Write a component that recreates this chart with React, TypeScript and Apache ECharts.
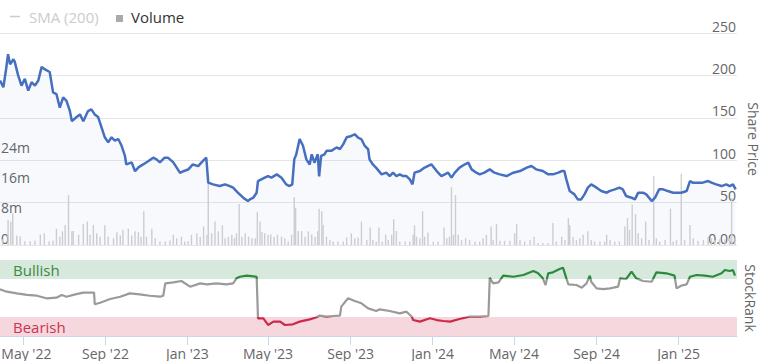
import React, { useEffect, useRef } from 'react';
import * as echarts from 'echarts';

// x values are days counted from 2022-03-28
const START = Date.UTC(2022, 2, 28);
const DAY = 86400000;
const AXIS_DAYS = 1097;

const tickDates = ['2022-05-01', '2022-09-01', '2023-01-01', '2023-05-01', '2023-09-01', '2024-01-01', '2024-05-01', '2024-09-01', '2025-01-01'];
const tickLabels = ["May '22", "Sep '22", "Jan '23", "May '23", "Sep '23", "Jan '24", "May '24", "Sep '24", "Jan '25"];

// [day, share price]
const sharePrice: [number, number][] = [
  [0, 194], [5, 186], [9, 207], [12, 225], [15, 213], [20, 219], [22, 216], [27, 200], [32, 188], [37, 196],
  [42, 182], [47, 192], [52, 188], [57, 194], [62, 210], [67, 207], [74, 204], [79, 180], [84, 178], [89, 162],
  [94, 174], [99, 170], [104, 158], [107, 146], [114, 151], [119, 154], [124, 146], [131, 158], [136, 160], [141, 154],
  [146, 151], [151, 139], [156, 127], [161, 121], [166, 127], [171, 123], [176, 125], [181, 117], [186, 105], [188, 95],
  [196, 97.5], [201, 87], [206, 91.6], [213, 95], [221, 99], [228, 103], [233, 101], [238, 97.5], [245, 103], [250, 103],
  [258, 97.5], [268, 85], [273, 87], [280, 89], [287, 95], [295, 93], [300, 97.5], [307, 103], [310, 73.5], [317, 71.5],
  [327, 69.5], [335, 71.5], [342, 69.5], [347, 67.6], [354, 61.7], [362, 55.8], [369, 51.8], [372, 53.8], [377, 55.8], [382, 61.7],
  [384, 75.4], [389, 77.4], [394, 79.4], [399, 81.3], [404, 79.4], [412, 83.3], [419, 79.4], [426, 71.5], [431, 69.5], [435, 71.5],
  [438, 101], [441, 107], [446, 125], [451, 117], [456, 101], [461, 95], [464, 107], [468, 97], [473, 107], [475, 81],
  [478, 105], [483, 107], [486, 111], [493, 111], [501, 115], [506, 113], [511, 119], [516, 127], [523, 128.6], [528, 130.6],
  [533, 126.7], [538, 124.7], [543, 116.8], [548, 112.9], [550, 101], [555, 95], [560, 91], [568, 83.3], [575, 85.3], [580, 81.3],
  [585, 85.3], [590, 81.3], [595, 83.3], [600, 81.3], [605, 81.3], [610, 77.4], [614, 71.5], [617, 85.3], [625, 87.2], [632, 91.3],
  [642, 95.2], [650, 87.2], [657, 81.3], [662, 83.3], [667, 85.3], [672, 79.4], [677, 85.3], [684, 91.3], [692, 95.2], [697, 97.2],
  [702, 89.2], [709, 85.3], [714, 83.3], [721, 85.3], [729, 89.2], [736, 85.3], [744, 83.3], [754, 81.3], [764, 85.3], [774, 87.2],
  [784, 91.3], [791, 93.2], [798, 89.2], [808, 87.2], [816, 83.3], [823, 83.3], [831, 85.3], [836, 87.2], [840, 87.2], [843, 77.4],
  [848, 63.6], [855, 59.7], [860, 53.8], [865, 53.8], [870, 59.7], [875, 67.6], [880, 71.5], [888, 67.6], [895, 63.6], [903, 61.7],
  [907, 63.6], [915, 65.6], [922, 67.6], [927, 65.6], [932, 57.7], [940, 55.8], [945, 53.8], [950, 61.7], [957, 61.7], [962, 59.7],
  [970, 51.8], [975, 55.8], [981, 65.6], [987, 65.6], [994, 63.6], [1002, 61.7], [1009, 61.7], [1014, 61.7], [1022, 63.6], [1027, 75.4],
  [1031, 73.5], [1039, 73.5], [1046, 73.5], [1054, 75.4], [1059, 73.5], [1066, 71.5], [1074, 69.5], [1081, 71.5], [1086, 69.5], [1091, 71.5],
  [1095, 65.6],
];

// [day, volume in millions]
const volume: [number, number][] = [
  [4, 1.5], [12, 6.7], [16, 6.2], [19, 8.4], [25, 2.5], [30, 2.3], [37, 1], [45, 1], [52, 1.2], [60, 2.8],
  [66, 3.1], [73, 1], [79, 1.2], [84, 4.3], [89, 2.2], [93, 3.6], [97, 5.3], [102, 13.2], [107, 3.6], [109, 3.7],
  [117, 2.7], [124, 5.5], [130, 6.2], [134, 2.7], [139, 5.3], [144, 3.1], [149, 2.2], [156, 5.2], [161, 2.2], [169, 1.8],
  [174, 3.4], [179, 2.5], [183, 4], [191, 4.3], [196, 2.5], [201, 3.6], [206, 3.4], [210, 2.2], [214, 8.9], [218, 2.2],
  [226, 4.3], [231, 1.8], [238, 0.9], [246, 0.9], [253, 1.2], [258, 2.7], [263, 1.8], [270, 2.2], [275, 0.9], [280, 1],
  [285, 2.7], [293, 3.1], [298, 2.2], [303, 4.9], [308, 2.7], [310, 17], [315, 3.1], [320, 6.2], [325, 3.6], [331, 5.2],
  [335, 1.8], [340, 2.2], [345, 2.7], [349, 1.8], [352, 3.1], [356, 10.8], [360, 2.2], [365, 3.1], [370, 2.2], [375, 1.8],
  [380, 1.8], [383, 8.7], [387, 6.2], [390, 3.4], [394, 3.1], [399, 2.7], [403, 2.8], [408, 2.2], [413, 2.7], [419, 2.2],
  [424, 1.8], [429, 0.9], [434, 2.7], [438, 12.6], [440, 9.8], [444, 3.6], [449, 3.7], [454, 2.2], [459, 3.6], [464, 2.8],
  [469, 2.2], [473, 3.7], [475, 9.6], [479, 8.9], [481, 5.3], [486, 2.2], [491, 1.3], [496, 0.9], [503, 0.9], [511, 0.9],
  [516, 2], [523, 3.1], [528, 1.8], [533, 2], [538, 6.2], [546, 1.3], [551, 4.6], [555, 1.3], [560, 0.9], [564, 4.6],
  [569, 0.9], [574, 2.7], [578, 1.3], [583, 2.7], [586, 6.8], [590, 3.7], [595, 0.9], [603, 0.9], [610, 0.9], [615, 2.7],
  [617, 5.2], [620, 2.2], [625, 1.8], [629, 8.9], [632, 2.2], [637, 3.3], [645, 0.9], [652, 0.9], [661, 4.6], [665, 1.8],
  [669, 2.2], [672, 15.3], [675, 2.7], [678, 13.2], [682, 2.7], [687, 1.3], [693, 1.8], [699, 1.3], [707, 0.9], [714, 0.9],
  [719, 1.8], [724, 2.7], [731, 4.9], [734, 1.3], [739, 5.5], [744, 1.1], [751, 1.1], [759, 1.1], [766, 3.1], [769, 5.5],
  [774, 1.3], [781, 0.9], [789, 1.3], [795, 2.2], [801, 0.5], [808, 0.5], [816, 0.5], [823, 5.8], [828, 0.9], [836, 2.2],
  [841, 1.3], [846, 7.1], [848, 5.3], [853, 2.2], [858, 1.3], [863, 1.8], [868, 2.7], [875, 3.6], [880, 1.3], [885, 0.9],
  [893, 0.9], [900, 0.9], [903, 2.7], [908, 1.3], [915, 0.9], [922, 0.9], [930, 4.9], [934, 7.1], [937, 4], [941, 10.7],
  [946, 8.2], [950, 3.1], [955, 1.8], [961, 6.2], [966, 1.3], [973, 18.2], [977, 1.8], [982, 0.9], [990, 1.3], [998, 9.6],
  [1002, 0.9], [1007, 1.3], [1014, 18.8], [1019, 1.3], [1027, 5.3], [1032, 1.8], [1039, 1.1], [1047, 1.3], [1054, 2.2], [1059, 1.8],
  [1064, 1.3], [1071, 1.5], [1079, 1.5], [1086, 1.8], [1089, 12.4], [1094, 2],
];

// [day, StockRank]
const stockRank: [number, number][] = [
  [0, 61.4], [10, 58.3], [25, 56.1], [40, 54], [55, 53], [69, 49.6], [84, 50.4], [92, 54], [99, 51.7], [112, 54.8],
  [124, 57], [136, 57], [140, 57], [141, 41.7], [149, 43.8], [164, 48.7], [179, 51.7], [193, 56.1], [208, 54.8], [223, 53],
  [238, 51.7], [243, 53], [246, 69.3], [258, 70.6], [270, 72.4], [283, 64.9], [298, 69.3], [308, 68], [322, 69.3], [337, 68],
  [347, 69.3], [352, 75.9], [357, 78], [367, 79.4], [382, 78], [384, 23.3], [392, 23.3], [399, 14.5], [407, 18.9], [417, 18.9],
  [424, 14.5], [436, 15.4], [446, 18.9], [461, 21.9], [469, 24.1], [476, 26.8], [486, 25.4], [496, 26.3], [506, 26.8], [508, 38.6],
  [518, 49.6], [528, 46], [538, 43], [548, 36.4], [560, 32.9], [565, 35.1], [580, 32.9], [595, 29.8], [605, 32], [613, 25.4],
  [615, 21], [625, 18.9], [640, 23.3], [650, 21], [660, 19.7], [670, 18.9], [684, 22.4], [699, 25.4], [714, 25.4], [727, 26.3],
  [729, 76.7], [734, 69.3], [742, 70.6], [749, 79.4], [764, 78], [779, 80.3], [794, 85.5], [801, 82.5], [808, 75.9], [812, 67.1],
  [816, 82.5], [823, 83.8], [833, 88.2], [838, 89.9], [843, 75.9], [846, 68], [858, 67.1], [866, 63.6], [873, 69.3], [878, 79.4],
  [880, 71.4], [888, 62.7], [898, 61.8], [908, 62.7], [920, 64.9], [923, 75.9], [932, 75], [940, 84.6], [947, 75.9], [957, 72.4],
  [970, 71.4], [977, 83.8], [992, 82.5], [1004, 79.4], [1007, 62.7], [1014, 66.2], [1022, 68], [1027, 78], [1037, 80.3], [1049, 79.4],
  [1061, 78], [1074, 82.5], [1079, 86.8], [1086, 85.5], [1091, 86.8], [1094, 79.4],
];

const bands = [
  { name: 'Bullish', from: 75, to: 100, fill: '#d6e9dc', text: '#3b8a40' },
  { name: 'Bearish', from: 0, to: 25, fill: '#f5d7dd', text: '#cc3355' },
];

const FONT = "'Open Sans', 'Noto Sans', sans-serif";
const tickDays = tickDates.map((s) => Math.round((Date.parse(s + 'T00:00:00Z') - START) / DAY));

export default function App() {
  const ref = useRef<HTMLDivElement>(null);
  useEffect(() => {
    if (!ref.current) return;
    const chart = echarts.init(ref.current, undefined, { renderer: 'svg' });
    const labelColor = '#666666';
    const gridLine = '#e6e6e6';
    const nameStyle = { color: labelColor, fontSize: 14, lineHeight: 14, fontFamily: FONT };
    chart.setOption({
      animation: false,
      textStyle: { fontFamily: FONT },
      grid: [
        { left: 0, right: 22, top: 33, height: 212, outerBoundsMode: 'none' },
        { left: 0, right: 22, top: 260, height: 76, outerBoundsMode: 'none' },
      ],
      xAxis: [
        { type: 'value', gridIndex: 0, min: 0, max: AXIS_DAYS, show: false, splitLine: { show: false } },
        {
          type: 'value', gridIndex: 1, min: 0, max: AXIS_DAYS,
          axisLine: { show: true, lineStyle: { color: '#ccd6eb' } },
          axisTick: { show: true, customValues: tickDays, length: 9, lineStyle: { color: '#ccd6eb' } },
          axisLabel: {
            customValues: tickDays,
            margin: 10,
            color: labelColor,
            fontSize: 14,
            fontFamily: FONT,
            rich: { first: { padding: [0, 0, 0, 7], color: labelColor, fontSize: 14, fontFamily: FONT } },
            formatter: (v: number) => {
              const i = tickDays.indexOf(Math.round(v));
              if (i < 0) return '';
              return i === 0 ? `{first|${tickLabels[i]}}` : tickLabels[i];
            },
          },
          splitLine: { show: false },
        },
      ],
      yAxis: [
        {
          type: 'value', gridIndex: 0, position: 'right', min: 0, max: 250, interval: 50,
          name: 'Share Price', nameLocation: 'middle', nameRotate: -90, nameGap: 4,
          nameTextStyle: nameStyle,
          axisLine: { show: false }, axisTick: { show: false },
          axisLabel: {
            inside: true, margin: 1, color: labelColor, fontSize: 14, fontFamily: FONT,
            verticalAlign: 'bottom',
            formatter: (v: number) => (v === 0 ? '0.00' : String(v)),
          },
          splitLine: { show: true, lineStyle: { color: gridLine, width: 1 } },
        },
        {
          type: 'value', gridIndex: 0, position: 'left', min: 0, max: 56e6, interval: 8e6,
          axisLine: { show: false }, axisTick: { show: false },
          axisLabel: {
            inside: true, margin: 1, color: labelColor, fontSize: 14, fontFamily: FONT,
            verticalAlign: 'bottom',
            formatter: (v: number) => (v === 0 ? '0' : v <= 24e6 ? `${v / 1e6}m` : ''),
          },
          splitLine: { show: false },
        },
        {
          type: 'value', gridIndex: 1, position: 'right', min: 0, max: 100, interval: 100,
          name: 'StockRank', nameLocation: 'middle', nameRotate: -90, nameGap: 4,
          nameTextStyle: nameStyle,
          axisLine: { show: false }, axisTick: { show: false },
          axisLabel: {
            inside: true, margin: 4, color: labelColor, fontSize: 14, fontFamily: FONT,
            verticalAlign: 'bottom',
            formatter: (v: number) => (v === 0 ? '0' : ''),
          },
          splitLine: { show: true, lineStyle: { color: gridLine, width: 1 } },
        },
      ],
      visualMap: {
        show: false,
        type: 'piecewise',
        seriesIndex: 3,
        dimension: 1,
        pieces: [
          { lt: 25, color: '#cc2a4a' },
          { gte: 25, lte: 75, color: '#9a9a9a' },
          { gt: 75, color: '#2b8a3c' },
        ],
      },
      graphic: [
        { type: 'line', shape: { x1: 10, y1: 16.5, x2: 20, y2: 16.5 }, style: { stroke: '#cccccc', lineWidth: 1.5 } },
        { type: 'text', x: 29, y: 17, style: { text: 'SMA (200)', fill: '#cccccc', font: `15px ${FONT}`, verticalAlign: 'middle' } },
        { type: 'rect', shape: { x: 116, y: 15, width: 7, height: 7 }, style: { fill: '#aaaaaa' } },
        { type: 'text', x: 131, y: 17, style: { text: 'Volume', fill: '#333333', font: `15px ${FONT}`, verticalAlign: 'middle' } },
      ],
      series: [
        {
          name: 'Volume', type: 'bar', xAxisIndex: 0, yAxisIndex: 1, z: 2,
          barWidth: 1.4, barGap: '-100%',
          itemStyle: { color: '#d2d2d2' },
          data: volume.map(([d, v]) => [d, v * 1e6]),
          silent: true,
        },
        {
          name: 'Share Price', type: 'line', xAxisIndex: 0, yAxisIndex: 0, z: 3,
          showSymbol: false, symbol: 'none',
          lineStyle: { color: '#4670bf', width: 2.5 },
          areaStyle: { color: 'rgba(70,112,191,0.06)' },
          data: sharePrice,
          silent: true,
        },
        {
          name: 'bands', type: 'line', xAxisIndex: 1, yAxisIndex: 2, z: 1,
          symbol: 'none', lineStyle: { opacity: 0 }, silent: true,
          data: stockRank,
          markArea: {
            silent: true,
            data: bands.map((b) => [
              {
                yAxis: b.from,
                itemStyle: { color: b.fill },
                label: { show: true, position: 'insideLeft', distance: 13, color: b.text, fontSize: 15, fontFamily: FONT, formatter: b.name },
              },
              { yAxis: b.to },
            ]),
          },
        },
        {
          name: 'StockRank', type: 'line', xAxisIndex: 1, yAxisIndex: 2, z: 3,
          symbol: 'none', showSymbol: false,
          lineStyle: { width: 2.2 },
          data: stockRank,
          silent: true,
        },
      ],
    });
    return () => chart.dispose();
  }, []);
  return <div ref={ref} style={{ width: 759, height: 361, position: 'absolute', left: 0, top: 0 }} />;
}
